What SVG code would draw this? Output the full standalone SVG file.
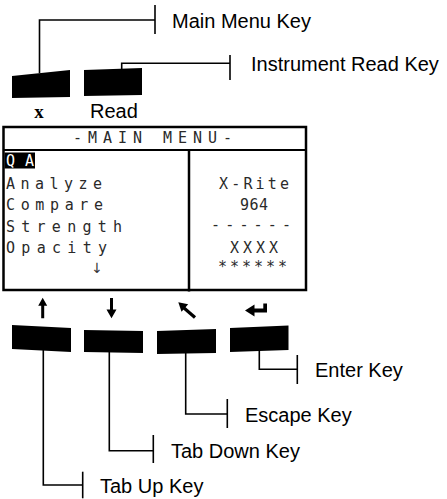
<svg xmlns="http://www.w3.org/2000/svg" width="447" height="499" viewBox="0 0 447 499">
<defs>
<style>
.key{fill:#000}
.lead{fill:none;stroke:#000;stroke-width:1.6}
.lbl{font-family:"Liberation Sans",Arial,sans-serif;font-size:20px;fill:#000}
.lcd{font-family:"DejaVu Sans Mono","Liberation Mono",monospace;font-size:15px;fill:#2a2a2a}
.frame{fill:none;stroke:#000;stroke-width:2.5}
.icon{fill:#000}
</style>
</defs>
<rect width="447" height="499" fill="#fff"/>

<g id="connectors">
<polyline class="lead" points="39.5,73 39.5,20 155,20"/>
<line class="lead" x1="155" y1="5" x2="155" y2="34"/>
<polyline class="lead" points="121.7,69 121.7,63.3 230,63.3"/>
<line class="lead" x1="230" y1="55" x2="230" y2="80"/>
<polyline class="lead" points="259.3,350 259.3,369.3 297.3,369.3"/>
<line class="lead" x1="297.3" y1="355" x2="297.3" y2="384"/>
<polyline class="lead" points="185.7,352 185.7,414 227.3,414"/>
<line class="lead" x1="227.3" y1="399" x2="227.3" y2="428"/>
<polyline class="lead" points="109.3,352 109.3,450.7 153.3,450.7"/>
<line class="lead" x1="153.3" y1="435" x2="153.3" y2="463"/>
<polyline class="lead" points="43.3,350 43.3,485 82.7,485"/>
<line class="lead" x1="82.7" y1="471.7" x2="82.7" y2="498.3"/>
</g>

<g id="main-menu-key">
<polygon class="key" points="12,76 70,70 70,97 12,98"/>
<text x="39" y="117.5" text-anchor="middle" style="font-family:'Liberation Serif','Times New Roman',serif;font-size:19px;font-weight:bold">x</text>
<text class="lbl" x="172" y="27.5">Main Menu Key</text>
</g>

<g id="instrument-read-key">
<polygon class="key" points="84,70 142,68 142,95 84,96"/>
<text class="lbl" x="90" y="117.5">Read</text>
<text class="lbl" x="251" y="71">Instrument Read Key</text>
</g>

<g id="screen">
<rect class="frame" x="3.5" y="127" width="302.5" height="163"/>
<line x1="3.5" y1="150" x2="306" y2="150" stroke="#000" stroke-width="2"/>
<line x1="189" y1="150" x2="189" y2="291.5" stroke="#000" stroke-width="2.5"/>
<text class="lcd" x="73" y="143" textLength="159" lengthAdjust="spacing">-MAIN MENU-</text>
<rect x="4.5" y="152.5" width="30.5" height="16" fill="#000"/>
<text class="lcd" x="6" y="166" textLength="28" lengthAdjust="spacing" style="fill:#fff">QA</text>
<text class="lcd" x="6" y="188.5" textLength="96" lengthAdjust="spacing">Analyze</text>
<text class="lcd" x="6" y="210" textLength="97" lengthAdjust="spacing">Compare</text>
<text class="lcd" x="6" y="231.5" textLength="116" lengthAdjust="spacing">Strength</text>
<text class="lcd" x="6" y="253" textLength="101" lengthAdjust="spacing">Opacity</text>
<text x="97" y="273" text-anchor="middle" style="font-family:'DejaVu Sans',sans-serif;font-size:14px;fill:#333">↓</text>
<text class="lcd" x="219" y="188.5" textLength="70" lengthAdjust="spacing">X-Rite</text>
<text class="lcd" x="240" y="210" textLength="28" lengthAdjust="spacing">964</text>
<text class="lcd" x="211" y="230" textLength="80" lengthAdjust="spacing">------</text>
<text class="lcd" x="230" y="253" textLength="48" lengthAdjust="spacing">XXXX</text>
<text class="lcd" x="218" y="272" textLength="69" lengthAdjust="spacing">******</text>
</g>

<g id="tab-up-key">
<path class="icon" d="M42.7,297.7 L47.2,305.8 L44.2,305.8 L44.2,318.3 L41.2,318.3 L41.2,305.8 L38.2,305.8 Z"/>
<polygon class="key" points="12,325 71,328 71,352 12,349"/>
<text class="lbl" x="100" y="492.5">Tab Up Key</text>
</g>

<g id="tab-down-key">
<path class="icon" d="M111.5,318.3 L116.5,309.5 L113,309.5 L113,298 L110,298 L110,309.5 L106.5,309.5 Z"/>
<polygon class="key" points="84,330 143,331 143,353 84,352"/>
<text class="lbl" x="171" y="458">Tab Down Key</text>
</g>

<g id="escape-key">
<path class="icon" d="M178.3,302.3 L188.2,304.2 L181.5,311.7 Z"/>
<line x1="184" y1="308" x2="195" y2="317.5" stroke="#000" stroke-width="3.2"/>
<polygon class="key" points="157,331 216,329 216,353 157,354"/>
<text class="lbl" x="245" y="421.5">Escape Key</text>
</g>

<g id="enter-key">
<path class="icon" d="M245,310.5 L254.5,304.5 L254.5,316.5 Z M253,308.5 L267,308.5 L267,312.5 L253,312.5 Z M263.3,303.5 L267,303.5 L267,312.5 L263.3,312.5 Z"/>
<polygon class="key" points="230,328 288.5,325.5 288.5,350 230,352"/>
<text class="lbl" x="315" y="377">Enter Key</text>
</g>
</svg>
